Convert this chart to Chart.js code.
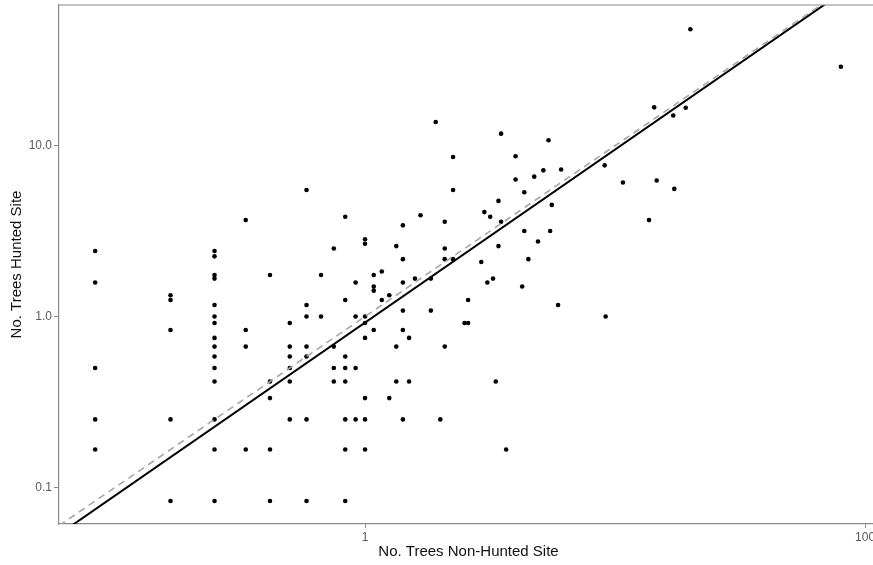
<!DOCTYPE html>
<html>
<head>
<meta charset="utf-8">
<script src="https://cdn.jsdelivr.net/npm/chart.js@4.4.1/dist/chart.umd.min.js"></script>
<style>
  html, body { margin: 0; padding: 0; background: #fff; overflow: hidden; }
  #wrap { width: 873px; height: 565px; overflow: hidden; position: relative; }
  canvas { display: block; }
</style>
</head>
<body>
<div id="wrap"><canvas id="c" width="890" height="565"></canvas></div>
<script>
// Paired observations: number of trees at non-hunted site (x) vs hunted site (y)
const nonHunted = [
  0.0833,0.0833,0.0833,0.0833,0.0833,
  0.1667,0.1667,0.1667,0.1667,0.1667,
  0.25,0.25,0.25,0.25,0.25,0.25,0.25,0.25,0.25,0.25,0.25,0.25,0.25,0.25,0.25,
  0.3333,0.3333,0.3333,0.3333,
  0.4167,0.4167,0.4167,0.4167,0.4167,
  0.5,0.5,0.5,0.5,0.5,0.5,
  0.5833,0.5833,0.5833,0.5833,0.5833,0.5833,0.5833,
  0.6667,0.6667,
  0.75,0.75,0.75,0.75,
  0.8333,0.8333,0.8333,0.8333,0.8333,0.8333,0.8333,0.8333,
  0.9167,0.9167,0.9167,0.9167,
  1.0,1.0,1.0,1.0,1.0,1.0,1.0,1.0,
  1.0833,1.0833,1.0833,1.0833,
  1.1667,1.1667,
  1.25,1.25,
  1.3333,1.3333,1.3333,
  1.4167,1.4167,1.4167,1.4167,1.4167,1.4167,
  1.5,1.5,
  1.5833,
  1.6667,
  1.8333,1.8333,
  1.9167,
  2.0,
  2.0833,2.0833,2.0833,2.0833,
  2.25,2.25,2.25,
  2.5,
  2.5833,2.5833,
  2.9167,
  3.0,
  3.0833,
  3.1667,
  3.25,
  3.3333,
  3.4167,3.4167,
  3.5,3.5,
  3.6667,
  4.0,4.0,
  4.25,
  4.3333,4.3333,
  4.5,
  4.75,
  4.9167,
  5.1667,
  5.4167,
  5.5,
  5.5833,
  5.9167,
  6.0833,
  9.0833,
  9.1667,
  10.75,
  13.667,
  14.333,
  14.667,
  17.083,
  17.25,
  19.167,
  20.0,
  80.0
];
const hunted = [
  2.417,1.583,0.5,0.25,0.1667,
  1.333,1.25,0.8333,0.25,0.0833,
  2.417,2.25,1.75,1.667,1.167,1.0,0.9167,0.75,0.6667,0.5833,0.5,0.4167,0.25,0.1667,0.0833,
  3.667,0.8333,0.6667,0.1667,
  1.75,0.4167,0.3333,0.1667,0.0833,
  0.9167,0.6667,0.5833,0.5,0.4167,0.25,
  5.5,1.167,1.0,0.6667,0.5833,0.25,0.0833,
  1.75,1.0,
  2.5,0.6667,0.5,0.4167,
  3.833,1.25,0.5833,0.5,0.4167,0.25,0.1667,0.0833,
  1.583,1.0,0.5,0.25,
  2.833,2.667,1.0,0.9167,0.75,0.3333,0.25,0.1667,
  1.75,1.5,1.417,0.8333,
  1.833,1.25,
  1.333,0.3333,
  2.583,0.6667,0.4167,
  3.417,2.167,1.583,1.083,0.8333,0.25,
  0.75,0.4167,
  1.667,
  3.917,
  1.667,1.083,
  13.75,
  0.25,
  3.583,2.5,2.167,0.6667,
  8.583,5.5,2.167,
  0.9167,
  1.25,0.9167,
  2.083,
  4.083,
  1.583,
  3.833,
  1.667,
  0.4167,
  4.75,2.583,
  11.75,3.583,
  0.1667,
  8.667,6.333,
  1.5,
  5.333,3.167,
  2.167,
  6.583,
  2.75,
  7.167,
  10.75,
  3.167,
  4.5,
  1.167,
  7.25,
  7.667,
  1.0,
  6.083,
  3.667,
  16.75,
  6.25,
  15.0,
  5.583,
  16.667,
  48.0,
  28.917
];

// Fitted log-log regression (log10 y = intercept + slope * log10 x) and 1:1 reference
const fitLine = [-0.0354, 1.0125];
const oneToOne = [0, 1];

// Axis limits and ticks
const xLimits = [0.0597, 112.6];
const yLimits = [0.0611, 66.5];
const xTickValues = [1, 100];
const xTickLabels = ['1', '100'];
const yTickValues = [0.1, 1, 10];
const yTickLabels = ['0.1', '1.0', '10.0'];

const points = nonHunted.map((x, i) => ({ x: x, y: hunted[i] }));
function linePts(coef) {
  return xLimits.map(x => ({ x: x, y: Math.pow(10, coef[0] + coef[1] * Math.log10(x)) }));
}

const FONT = '"Liberation Sans", Arial, sans-serif';
const AXIS_COLOR = '#8a8a8a';

const topBorder = {
  id: 'topBorder',
  afterDraw(chart) {
    const { ctx, chartArea } = chart;
    ctx.save();
    ctx.strokeStyle = AXIS_COLOR;
    ctx.lineWidth = 1.2;
    ctx.beginPath();
    ctx.moveTo(chartArea.left, chartArea.top);
    ctx.lineTo(chartArea.right + 20, chartArea.top);
    ctx.stroke();
    ctx.restore();
  }
};

new Chart(document.getElementById('c'), {
  type: 'scatter',
  data: {
    datasets: [
      {
        label: 'sites',
        data: points,
        backgroundColor: '#000',
        borderWidth: 0,
        pointRadius: 2.3,
        order: 3
      },
      {
        type: 'line',
        label: 'fit',
        data: linePts(fitLine),
        borderColor: '#000',
        borderWidth: 2,
        pointRadius: 0,
        fill: false,
        clip: 0,
        order: 2
      },
      {
        type: 'line',
        label: '1:1',
        data: linePts(oneToOne),
        borderColor: '#a6a6a6',
        borderWidth: 1.6,
        borderDash: [7, 5],
        pointRadius: 0,
        fill: false,
        clip: 0,
        order: 1
      }
    ]
  },
  options: {
    responsive: false,
    animation: false,
    events: [],
    layout: { padding: { top: 5, right: 12, bottom: 0, left: 0 } },
    plugins: { legend: { display: false }, tooltip: { enabled: false } },
    scales: {
      x: {
        type: 'logarithmic',
        bounds: 'data',
        min: xLimits[0],
        max: xLimits[1],
        afterFit(s) { s.height = 41; s.paddingLeft = 0; s.paddingRight = 0; },
        afterBuildTicks(s) { s.ticks = xTickValues.map(v => ({ value: v })); },
        grid: { display: true, drawOnChartArea: false, drawTicks: true, tickLength: 4, color: AXIS_COLOR, lineWidth: 1 },
        border: { display: true, color: AXIS_COLOR, width: 1.2 },
        ticks: {
          autoSkip: false, maxRotation: 0, padding: 2,
          color: '#5a5a5a', font: { family: FONT, size: 12 },
          callback(v) { const i = xTickValues.indexOf(v); return i >= 0 ? xTickLabels[i] : ''; }
        },
        title: {
          display: true, text: 'No. Trees Non-Hunted Site',
          color: '#111', font: { family: FONT, size: 15 },
          padding: { top: 0, bottom: 4 }
        }
      },
      y: {
        type: 'logarithmic',
        bounds: 'data',
        min: yLimits[0],
        max: yLimits[1],
        afterFit(s) { s.width = 59; s.paddingTop = 0; s.paddingBottom = 0; },
        afterBuildTicks(s) { s.ticks = yTickValues.map(v => ({ value: v })); },
        grid: { display: true, drawOnChartArea: false, drawTicks: true, tickLength: 5, color: AXIS_COLOR, lineWidth: 1 },
        border: { display: true, color: AXIS_COLOR, width: 1.2 },
        ticks: {
          autoSkip: false, padding: 2,
          color: '#5a5a5a', font: { family: FONT, size: 12 },
          callback(v) { const i = yTickValues.indexOf(v); return i >= 0 ? yTickLabels[i] : ''; }
        },
        title: {
          display: true, text: 'No. Trees Hunted Site',
          color: '#111', font: { family: FONT, size: 15 },
          padding: { top: 8, bottom: 0 }
        }
      }
    }
  },
  plugins: [topBorder]
});
</script>
</body>
</html>
